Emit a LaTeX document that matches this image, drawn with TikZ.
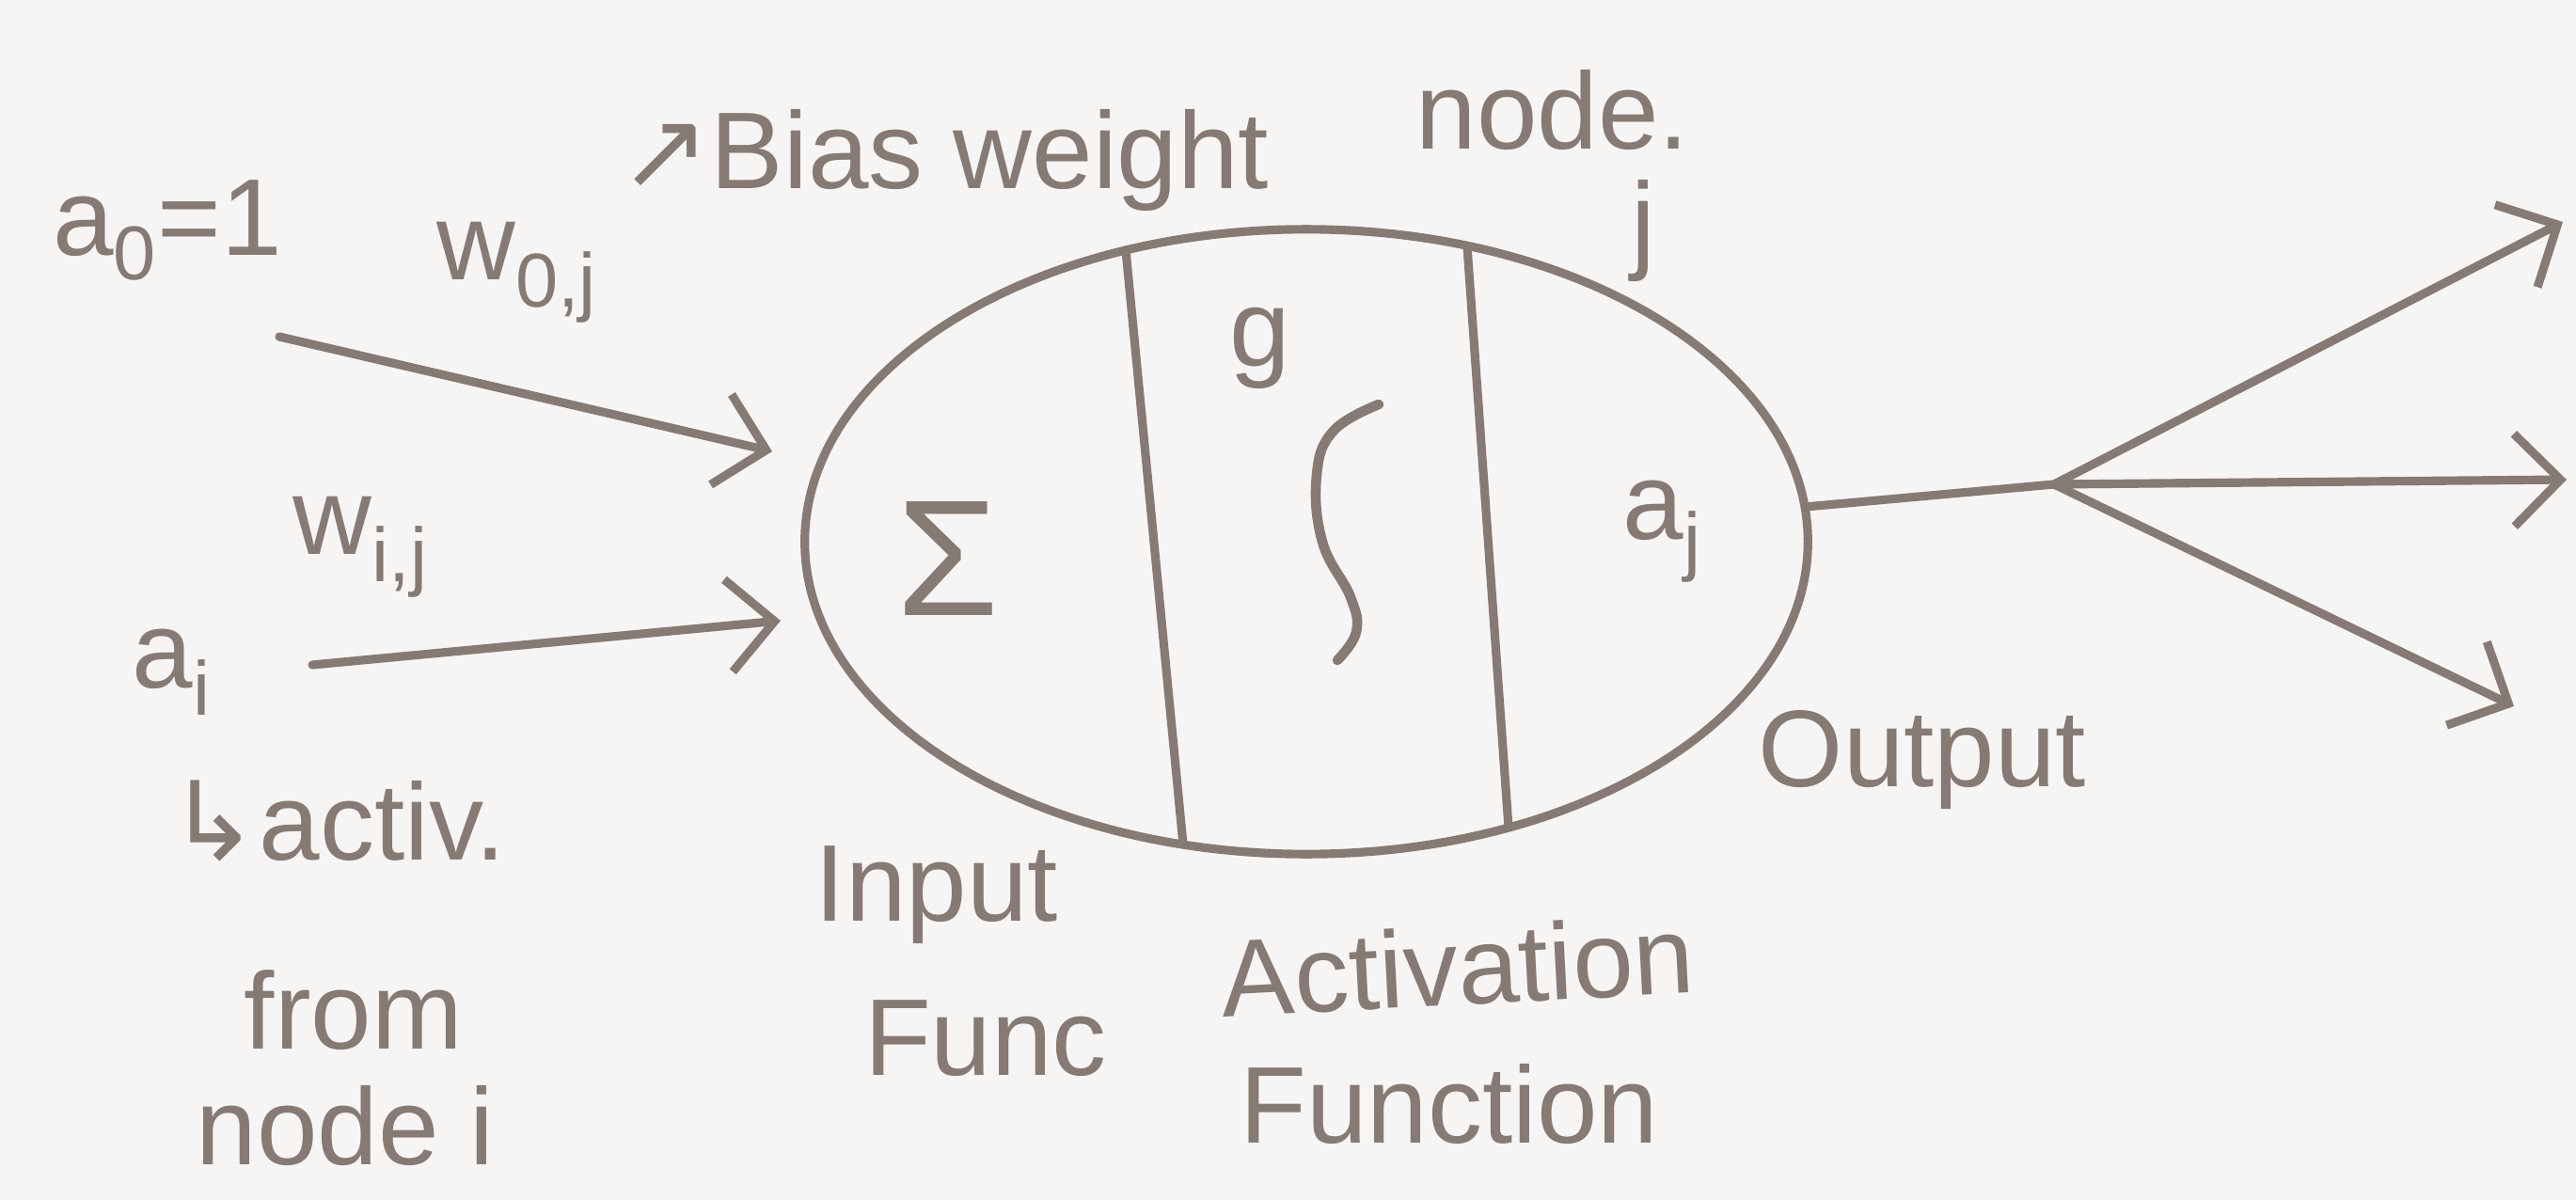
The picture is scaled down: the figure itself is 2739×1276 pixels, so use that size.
\documentclass[tikz,border=0pt]{standalone}
\usepackage{fontspec}
\setmainfont{Liberation Sans}
\newfontfamily\symfont{DejaVu Sans}
\usetikzlibrary{arrows.meta,shapes.geometric}
\definecolor{ink}{HTML}{857B74}
\definecolor{paper}{HTML}{F7F5F3}
\begin{document}
\begin{tikzpicture}[x=0.01cm,y=-0.01cm,
  lbl/.style={text=ink,font=\fontsize{33}{37}\selectfont,inner sep=0pt},
  biglbl/.style={text=ink,font=\fontsize{50}{54}\selectfont,inner sep=0pt},
  stroke/.style={draw=ink,line width=2.6pt,line cap=round,line join=round},
  arr/.style={stroke,-{Straight Barb[length=14pt,width=28pt]}}]
\useasboundingbox (0,0) rectangle (2739,1276);
\fill[paper] (0,0) rectangle (2739,1276);

% neuron
\node[draw=ink,line width=2.6pt,ellipse,minimum width=10.66cm,minimum height=6.64cm,inner sep=0pt] (neuron) at (1389,576) {};
\draw[stroke] (1197,266) -- (1258,898);
\draw[stroke] (1560,262) -- (1604,880);

% inside labels
\node[biglbl] (sum) at (1008,594) {Σ};
\node[lbl] (g) at (1340,370) {g};
\draw[stroke,line width=3pt] plot[smooth,tension=0.7] coordinates {(1466,430) (1418,458) (1400,505) (1406,576) (1436,635) (1442,672) (1422,702)};
\node[lbl] (aj) at (1768,565) {a\textsubscript{j}};

% inputs
\node[lbl] (a0) at (178,245) {a\textsubscript{0}=1};
\node[lbl] (w0) at (550,290) {w\textsubscript{0,j}};
\node[lbl] (bias) at (1004,170) {{\symfont ↗}Bias weight};
\node[lbl] (nodelbl) at (1651,117) {node.};
\node[lbl] (jlbl) at (1747,245) {j};
\node[lbl] (wi) at (384,582) {w\textsubscript{i,j}};
\node[lbl] (ai) at (183,715) {a\textsubscript{i}};
\node[lbl] (activ) at (358,873) {{\symfont ↳}activ.};
\node[lbl] (from) at (376,1074) {from};
\node[lbl] (nodei) at (367,1197) {node i};

\coordinate (in1s) at (297,358);
\coordinate (in1e) at (821,480);
\coordinate (in2s) at (332,707);
\coordinate (in2e) at (830,660);
\draw[arr] (in1s) -- (in1e);
\draw[arr] (in2s) -- (in2e);

% output
\coordinate (fork) at (2184,515);
\coordinate (o1) at (2725,236);
\coordinate (o2) at (2729,510);
\coordinate (o3) at (2673,751);
\draw[stroke] (neuron.4) -- (fork);
\draw[arr] (fork) -- (o1);
\draw[arr] (fork) -- (o2);
\draw[arr] (fork) -- (o3);
\node[lbl] (outlbl) at (2044,808) {Output};

% bottom labels
\node[lbl] (inlbl) at (996,952) {Input};
\node[lbl] (funclbl) at (1048,1104) {Func};
\node[lbl,rotate=3] (actlbl) at (1550,1027) {Activation};
\node[lbl] (fnlbl) at (1541,1174) {Function};
\end{tikzpicture}
\end{document}
